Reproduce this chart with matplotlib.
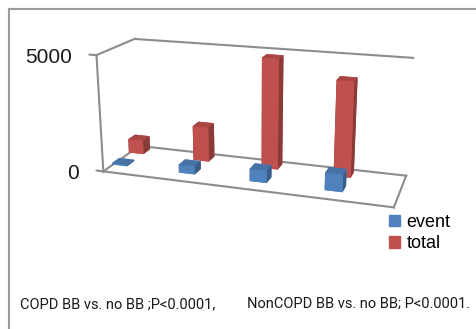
import numpy as np
import matplotlib.pyplot as plt
from matplotlib.patches import Patch
from matplotlib.lines import Line2D
from matplotlib.colors import to_rgb
from matplotlib.transforms import offset_copy

# 数据
categories = ['COPD BB', 'COPD no BB', 'NonCOPD BB', 'NonCOPD no BB']
event = [60, 350, 530, 730]
total = [630, 1550, 4800, 4100]
series_names = ['event', 'total']
z_ticks = [0, 5000]

blue = '#4F81BD'
red = '#C0504D'
frame_c = '#8c8c8c'


def faces(c):
    # bar3d 面顺序: 底, 顶, 前, 后, 左, 右
    r = np.array(to_rgb(c))
    top = np.clip(r * 0.88, 0, 1)
    side = r * 0.72
    return [r, top, r, r, side, side]


W, H = 476, 329
S = 420  # 3D 坐标区为正方形
cx, cy = 248, 122
fig = plt.figure(figsize=(W / 100, H / 100), dpi=100)
ax = fig.add_axes([(cx - S / 2) / W, (H - cy - S / 2) / H, S / W, S / H], projection='3d')
ax.set_proj_type('persp', focal_length=0.35)
ax.computed_zorder = False

X0, X1 = -0.1, 3.8
D = 1.1
Y0, Y1 = 0.0, D
Z1 = 5000

ax.set_xlim(X0, X1)
ax.set_ylim(Y0, Y1)
ax.set_zlim(0, Z1)
ax.set_box_aspect((X1 - X0, D, 1.6), zoom=0.77)
ax.view_init(elev=17, azim=-72)
ax.set_axis_off()

# 坐标框
def seg(p, q):
    ax.plot([p[0], q[0]], [p[1], q[1]], [p[2], q[2]], color=frame_c, lw=1.5, zorder=1)

seg((X0, Y0, 0), (X0, Y0, Z1))
seg((X0, Y0, Z1), (X0, Y1, Z1))
seg((X0, Y1, Z1), (X1, Y1, Z1))
seg((X0, Y0, 0), (X1, Y0, 0))
seg((X1, Y0, 0), (X1, Y1, 0))
seg((X1, Y1, 0), (X0, Y1, 0))
seg((X0, Y1, 0), (X0, Y0, 0))

# 刻度与标签，标签在左前竖边处向左偏移
lab_tr = offset_copy(ax.transData, fig=fig, x=-24, y=-2, units='dots')
for z in z_ticks:
    seg((X0 - 0.1, Y0, z), (X0, Y0, z))
    ax.text(X0, Y0, z, str(z), ha='right', va='center', transform=lab_tr,
            fontsize=15, family='Liberation Sans', color='#1a1a1a')

# 柱子
x = np.arange(len(categories))
w = 0.23
dy = 0.22
xs = np.concatenate([x - w / 2, x - w / 2])
ys = np.concatenate([np.full(len(x), 0.25 * D), np.full(len(x), 0.72 * D)])
hs = np.concatenate([event, total])
cols = []
for c in [blue] * len(x) + [red] * len(x):
    cols += faces(c)
ax.bar3d(xs, ys, np.zeros_like(xs), w, dy, hs, color=cols, shade=False, zorder=2)

# 图例
handles = [Patch(color=blue), Patch(color=red)]
fig.legend(handles, series_names, loc='upper left', bbox_to_anchor=(0.784, 0.40),
           frameon=False, handlelength=0.6, handleheight=0.6, handletextpad=0.35,
           labelspacing=0.25, prop={'family': 'Liberation Sans', 'size': 13})

fig.text(20 / W, 1 - 304 / H, 'COPD BB vs. no BB ;P<0.0001,', va='center',
         fontsize=10.5, family='Roboto', color='#1a1a1a')
fig.text(247 / W, 1 - 304 / H, 'NonCOPD BB vs. no BB; P<0.0001.', va='center',
         fontsize=10.5, family='Roboto', color='#1a1a1a')

# 外边框
fig.add_artist(Line2D([8.5 / W, 8.5 / W], [0, 1 - 8.5 / H], color='#9a9a9a', lw=1.5))
fig.add_artist(Line2D([8.5 / W, 1], [1 - 8.5 / H, 1 - 8.5 / H], color='#9a9a9a', lw=1.5))

fig.savefig('out.png', dpi=100)
